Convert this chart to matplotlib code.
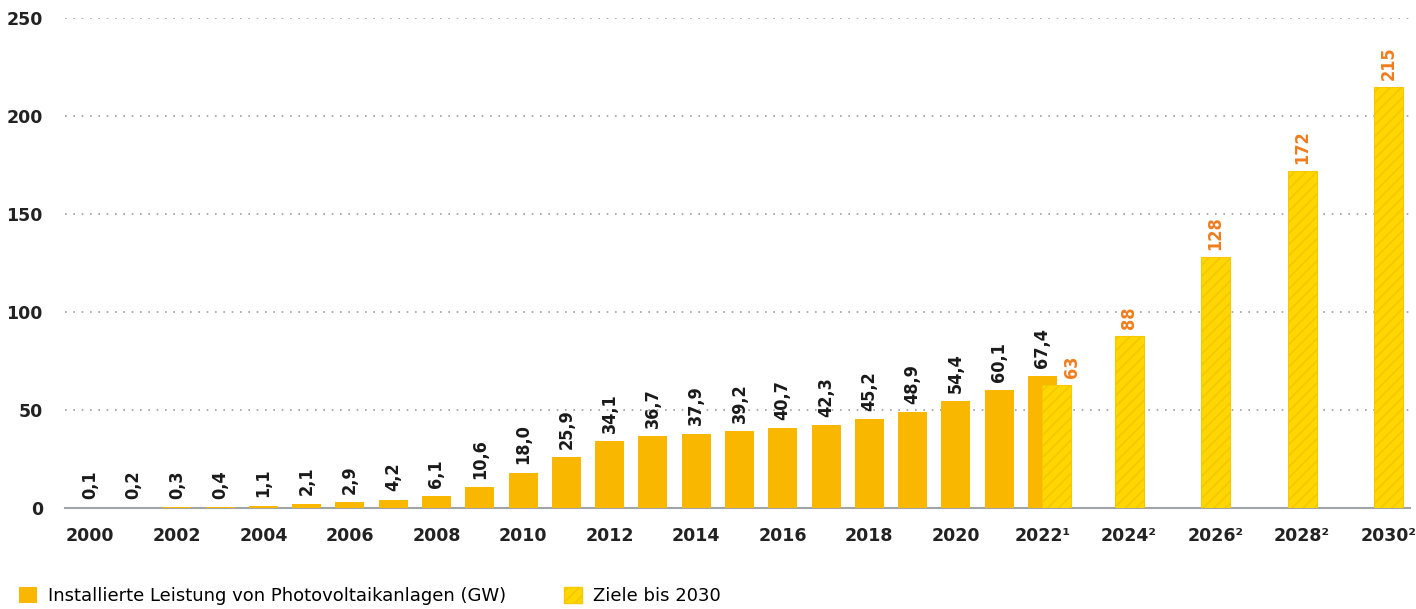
import matplotlib.pyplot as plt
from matplotlib.patches import Patch
import matplotlib as mpl

years = list(range(2000, 2023))
installed = [0.1, 0.2, 0.3, 0.4, 1.1, 2.1, 2.9, 4.2, 6.1, 10.6, 18.0, 25.9,
             34.1, 36.7, 37.9, 39.2, 40.7, 42.3, 45.2, 48.9, 54.4, 60.1, 67.4]
target_years = [2022, 2024, 2026, 2028, 2030]
targets = [63, 88, 128, 172, 215]
tick_years = list(range(2000, 2031, 2))
tick_labels = [str(y) for y in range(2000, 2022, 2)] + ['2022¹', '2024²', '2026²', '2028²', '2030²']

orange = '#F9B700'
yellow = '#FFD700'
label_orange = '#F07D1E'
mpl.rcParams['hatch.color'] = '#EDB300'
mpl.rcParams['hatch.linewidth'] = 1.3

fig = plt.figure(figsize=(14.16, 6.09), dpi=100)
ax = fig.add_axes([0.046, 0.166, 0.95, 0.804])

width = 0.67
ax.bar(years, installed, width=width, color=orange, zorder=2)
# the 2022 target sits beside the measured 2022 value
tx = [y + (0.33 if y == 2022 else 0) for y in target_years]
ax.bar(tx, targets, width=width, color=yellow, edgecolor='#F5C800',
       linewidth=0.8, hatch='///', zorder=3)

lab_font = dict(fontsize=13, fontweight='bold', family='DejaVu Sans', fontstretch='condensed')
for x, v in zip(years, installed):
    ax.annotate(f'{v:.1f}'.replace('.', ','), (x, v), xytext=(0, 6),
                textcoords='offset points', rotation=90, ha='center', va='bottom',
                color='#1a1a1a', **lab_font)
for x, v in zip(tx, targets):
    dx = 11 if x != round(x) else 0
    ax.annotate(str(v), (x, v), xytext=(dx, 5),
                textcoords='offset points', rotation=90, ha='center', va='bottom',
                color=label_orange, **lab_font)

ax.set_xlim(1999.42, 2030.5)
ax.set_ylim(0, 250)
ax.set_yticks([0, 50, 100, 150, 200, 250])
ax.set_xticks(tick_years)
ax.set_xticklabels(tick_labels)
ax.tick_params(length=0, labelsize=12.5, colors='#222222', pad=14)
for lab in ax.get_xticklabels() + ax.get_yticklabels():
    lab.set_fontweight('bold')
ax.tick_params(axis='y', pad=16)
ax.grid(axis='y', linestyle=(0, (1, 4)), color='#9aa0a6', linewidth=1.2, zorder=0)
for s in ['top', 'right', 'left']:
    ax.spines[s].set_visible(False)
ax.spines['bottom'].set_color('#a0a4a8')
ax.spines['bottom'].set_linewidth(1.5)
ax.spines['bottom'].set_zorder(1)

handles = [Patch(facecolor=orange, label='Installierte Leistung von Photovoltaikanlagen (GW)'),
           Patch(facecolor=yellow, edgecolor='#F5C800', hatch='///', label='Ziele bis 2030')]
fig.legend(handles=handles, loc='lower left', bbox_to_anchor=(0.002, -0.02), ncol=2,
           frameon=False, fontsize=13, handlelength=1.0, handleheight=1.0,
           columnspacing=3.2, handletextpad=0.6)

fig.savefig('out.png', dpi=100)
